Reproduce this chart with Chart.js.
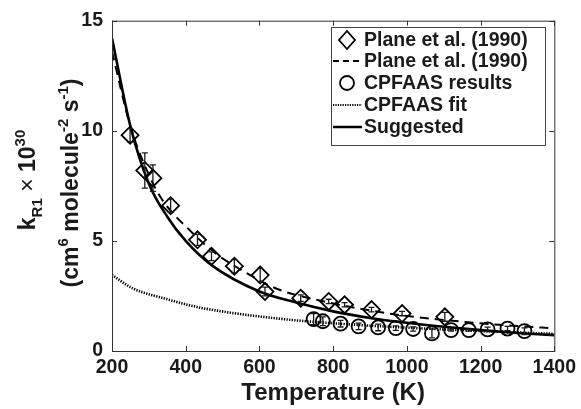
<!DOCTYPE html>
<html>
<head>
<meta charset="utf-8">
<script src="https://cdn.jsdelivr.net/npm/chart.js@4/dist/chart.umd.min.js"></script>
<style>
  body { margin: 0; background: #fff; }
  canvas { display: block; }
</style>
</head>
<body>
<canvas id="c" width="581" height="409"></canvas>
<script>
// Plane et al. (1990) measurements
const planeT = [249, 289, 311, 359, 432, 470, 532, 602, 615, 712, 788, 831, 904, 987, 1103];
const planeK = [9.8, 8.2, 7.85, 6.6, 5.05, 4.3, 3.85, 3.45, 2.7, 2.4, 2.25, 2.1, 1.88, 1.7, 1.55];
const planeErr = [0.3, 0.8, 0.6, 0.3, 0.25, 0.2, 0.3, 0.3, 0.2, 0.15, 0.1, 0.1, 0.1, 0.1, 0.2];

// CPFAAS results
const cpT = [747, 772, 820, 869, 922, 970, 1017, 1068, 1120, 1168, 1219, 1273, 1319];
const cpK = [1.45, 1.35, 1.24, 1.12, 1.07, 1.04, 1.0, 0.8, 0.95, 0.95, 0.98, 1.02, 0.9];
const cpErr = [0.25, 0.2, 0.15, 0.15, 0.15, 0.1, 0.1, 0.2, 0.05, 0.05, 0.1, 0.1, 0.15];

// curves
const planeFitT = [200, 250, 300, 335, 416, 480, 559, 645, 769, 877, 995, 1100, 1200, 1300, 1400];
const planeFitK = [13.6, 10.2, 8.0, 6.9, 5.4, 4.45, 3.6, 2.84, 2.27, 1.91, 1.6, 1.41, 1.26, 1.13, 1.03];

const cpFitT = [200, 257, 348, 430, 526, 620, 707, 800, 900, 1000, 1100, 1200, 1300, 1400];
const cpFitK = [3.45, 2.84, 2.36, 2.0, 1.73, 1.53, 1.38, 1.26, 1.15, 1.06, 0.98, 0.91, 0.84, 0.78];

const sugT = [200, 250, 300, 350, 400, 470, 600, 700, 800, 900, 1000, 1100, 1200, 1300, 1400];
const sugK = [14.2, 10.2, 7.6, 6.1, 5.0, 3.9, 2.7, 2.2, 1.8, 1.5, 1.28, 1.1, 0.95, 0.82, 0.72];

const xTicks = [200, 400, 600, 800, 1000, 1200, 1400];
const yTicks = [0, 5, 10, 15];

const FONT = '"Liberation Sans", Arial, Helvetica, sans-serif';
const INK = '#1a1a1a';

const pts = (xs, ys) => xs.map((x, i) => ({x: x, y: ys[i]}));

// inward ticks, axes box, error bars and labels
const decor = {
  id: 'decor',
  afterDatasetsDraw(chart) {
    const ctx = chart.ctx, a = chart.chartArea;
    const xs = chart.scales.x, ys = chart.scales.y;
    ctx.save();
    ctx.strokeStyle = INK;
    ctx.lineWidth = 1.3;

    // error bars
    const bars = (T, K, E) => {
      T.forEach((t, i) => {
        const px = xs.getPixelForValue(t);
        const y1 = ys.getPixelForValue(K[i] + E[i]);
        const y2 = ys.getPixelForValue(K[i] - E[i]);
        ctx.beginPath();
        ctx.moveTo(px, y1); ctx.lineTo(px, y2);
        ctx.moveTo(px - 3, y1); ctx.lineTo(px + 3, y1);
        ctx.moveTo(px - 3, y2); ctx.lineTo(px + 3, y2);
        ctx.stroke();
      });
    };
    bars(planeT, planeK, planeErr);
    bars(cpT, cpK, cpErr);

    // box
    ctx.lineWidth = 1;
    ctx.strokeStyle = '#333';
    ctx.strokeRect(a.left + 0.5, a.top + 0.5, a.right - a.left, a.bottom - a.top);
    ctx.beginPath();
    xTicks.forEach(t => {
      const px = Math.round(xs.getPixelForValue(t)) + 0.5;
      ctx.moveTo(px, a.bottom); ctx.lineTo(px, a.bottom - 5);
      ctx.moveTo(px, a.top); ctx.lineTo(px, a.top + 5);
    });
    yTicks.forEach(v => {
      const py = Math.round(ys.getPixelForValue(v)) + 0.5;
      ctx.moveTo(a.left, py); ctx.lineTo(a.left + 5, py);
      ctx.moveTo(a.right, py); ctx.lineTo(a.right - 5, py);
    });
    ctx.stroke();

    // x title
    ctx.fillStyle = INK;
    ctx.font = 'bold 24px ' + FONT;
    ctx.textAlign = 'center';
    ctx.textBaseline = 'middle';
    ctx.fillText('Temperature (K)', (a.left + a.right) / 2, 393);

    // y title, two rotated lines with sub/superscripts
    const drawRuns = (runs, cx, cy) => {
      ctx.save();
      ctx.translate(cx, cy);
      ctx.rotate(-Math.PI / 2);
      ctx.textAlign = 'left';
      ctx.textBaseline = 'alphabetic';
      let w = 0;
      runs.forEach(r => { ctx.font = r.f; w += ctx.measureText(r.t).width; });
      let x = -w / 2;
      runs.forEach(r => {
        ctx.font = r.f;
        ctx.fillText(r.t, x, r.dy);
        x += ctx.measureText(r.t).width;
      });
      ctx.restore();
    };
    const big = 'bold 23px ' + FONT, small = 'bold 15px ' + FONT;
    drawRuns([
      {t: 'k', f: big, dy: 0},
      {t: 'R1', f: small, dy: 7},
      {t: ' \u00d7 ', f: '23px ' + FONT, dy: 0},
      {t: '10', f: big, dy: 0},
      {t: '30', f: small, dy: -10}
    ], 35, 180);
    drawRuns([
      {t: '(cm', f: big, dy: 0},
      {t: '6', f: small, dy: -10},
      {t: ' molecule', f: big, dy: 0},
      {t: '-2', f: small, dy: -10},
      {t: ' s', f: big, dy: 0},
      {t: '-1', f: small, dy: -10},
      {t: ')', f: big, dy: 0}
    ], 78, 183);

    // legend
    const lx = 331, ly = 27, lw = 214, lh = 118;
    ctx.fillStyle = '#fff';
    ctx.fillRect(lx, ly, lw, lh);
    ctx.strokeStyle = '#444';
    ctx.lineWidth = 1;
    ctx.strokeRect(lx + 0.5, ly + 0.5, lw, lh);
    const rows = [40, 61, 83, 105, 127];
    const labels = ['Plane et al. (1990)', 'Plane et al. (1990)', 'CPFAAS results', 'CPFAAS fit', 'Suggested'];
    ctx.strokeStyle = '#000';
    // diamond
    ctx.lineWidth = 1.8;
    ctx.beginPath();
    ctx.moveTo(347, rows[0] - 9); ctx.lineTo(355, rows[0]); ctx.lineTo(347, rows[0] + 9); ctx.lineTo(339, rows[0]);
    ctx.closePath(); ctx.stroke();
    // dashed
    ctx.setLineDash([6, 4]);
    ctx.beginPath(); ctx.moveTo(333, rows[1]); ctx.lineTo(362, rows[1]); ctx.stroke();
    // circle
    ctx.setLineDash([]);
    ctx.beginPath(); ctx.arc(347, rows[2], 7, 0, Math.PI * 2); ctx.stroke();
    // dotted
    ctx.lineWidth = 2;
    ctx.setLineDash([1.2, 1.2]);
    ctx.beginPath(); ctx.moveTo(333, rows[3]); ctx.lineTo(362, rows[3]); ctx.stroke();
    // solid
    ctx.setLineDash([]);
    ctx.lineWidth = 2.5;
    ctx.beginPath(); ctx.moveTo(333, rows[4]); ctx.lineTo(362, rows[4]); ctx.stroke();

    ctx.fillStyle = INK;
    ctx.font = 'bold 19.5px ' + FONT;
    ctx.textAlign = 'left';
    ctx.textBaseline = 'middle';
    labels.forEach((s, i) => ctx.fillText(s, 364, rows[i] + 1));
    ctx.restore();
  }
};

new Chart(document.getElementById('c'), {
  type: 'scatter',
  data: {
    datasets: [
      {
        label: 'Suggested', data: pts(sugT, sugK), showLine: true,
        borderColor: '#000', borderWidth: 2.6, pointRadius: 0, cubicInterpolationMode: 'monotone'
      },
      {
        label: 'Plane et al. (1990) fit', data: pts(planeFitT, planeFitK), showLine: true,
        borderColor: '#000', borderWidth: 2, borderDash: [9, 6], pointRadius: 0, cubicInterpolationMode: 'monotone'
      },
      {
        label: 'CPFAAS fit', data: pts(cpFitT, cpFitK), showLine: true,
        borderColor: '#000', borderWidth: 2.6, borderDash: [1.3, 1.3], pointRadius: 0, cubicInterpolationMode: 'monotone'
      },
      {
        label: 'Plane et al. (1990)', data: pts(planeT, planeK),
        pointStyle: 'rectRot', pointRadius: 8.5, borderColor: '#000', borderWidth: 1.8,
        backgroundColor: 'rgba(0,0,0,0)'
      },
      {
        label: 'CPFAAS results', data: pts(cpT, cpK),
        pointStyle: 'circle', pointRadius: 7, borderColor: '#000', borderWidth: 1.8,
        backgroundColor: 'rgba(0,0,0,0)'
      }
    ]
  },
  options: {
    responsive: false,
    animation: false,
    layout: { padding: { top: 13, right: 24, left: 0, bottom: 0 } },
    plugins: { legend: { display: false }, tooltip: { enabled: false } },
    scales: {
      x: {
        type: 'linear', min: 200, max: 1400,
        afterBuildTicks: s => { s.ticks = xTicks.map(v => ({value: v})); },
        afterFit: s => { s.height = 58; },
        grid: { display: false, drawTicks: false },
        border: { display: false },
        ticks: { color: INK, padding: 5, callback: v => String(v), font: { family: FONT, size: 19.5, weight: 'bold' }, maxRotation: 0 }
      },
      y: {
        type: 'linear', min: 0, max: 15,
        afterBuildTicks: s => { s.ticks = yTicks.map(v => ({value: v})); },
        afterFit: s => { s.width = 112; },
        grid: { display: false, drawTicks: false },
        border: { display: false },
        ticks: { color: INK, padding: 9, callback: v => String(v), font: { family: FONT, size: 19.5, weight: 'bold' } }
      }
    }
  },
  plugins: [decor]
});
</script>
</body>
</html>
